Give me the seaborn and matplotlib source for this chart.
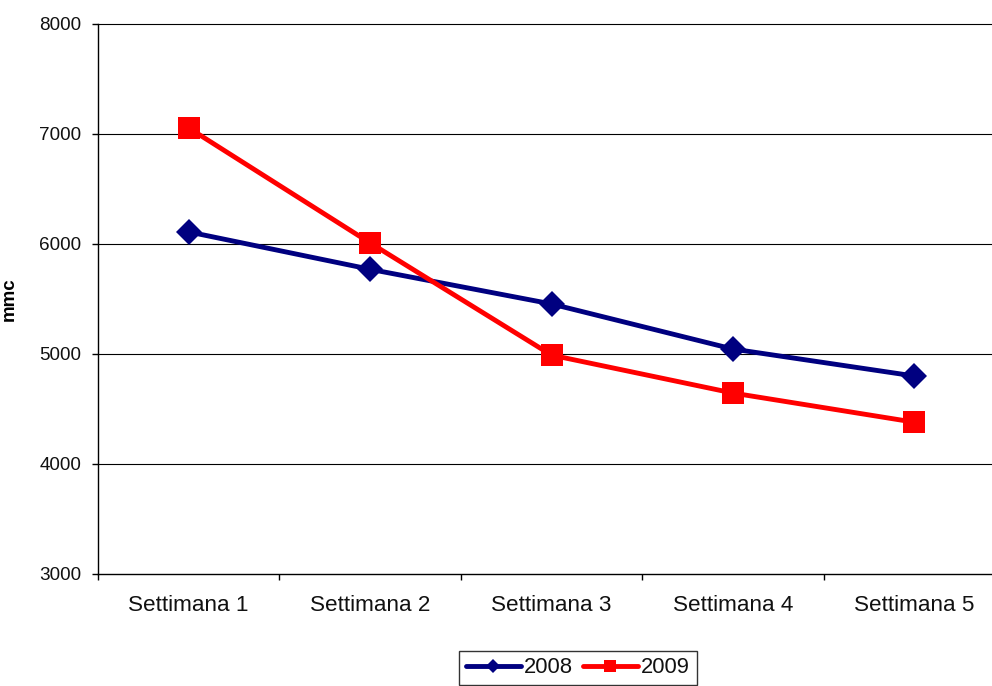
import matplotlib
matplotlib.use("Agg")
import matplotlib.pyplot as plt
import seaborn as sns
import pandas as pd
import numpy as np

categories = ["Settimana 1", "Settimana 2", "Settimana 3", "Settimana 4", "Settimana 5"]
values_2008 = [6110, 5770, 5455, 5045, 4800]
values_2009 = [7055, 6010, 4990, 4645, 4380]
yticks = [3000, 4000, 5000, 6000, 7000, 8000]

sns.set_theme(style="white")
plt.rcParams["font.family"] = ["Liberation Sans", "DejaVu Sans"]

df = pd.DataFrame({
    "Settimana": categories * 2,
    "mmc": values_2008 + values_2009,
    "Anno": ["2008"] * 5 + ["2009"] * 5,
})

fig = plt.figure(figsize=(9.92, 6.86), dpi=100)
ax = fig.add_axes([98 / 992, 112 / 686, (1005 - 98) / 992, (574 - 24) / 686])

sns.lineplot(data=df[df.Anno == "2008"], x="Settimana", y="mmc", ax=ax,
             color="#000080", linewidth=3.5, marker="D", markersize=13.5,
             markeredgewidth=0, label="2008", sort=False)
sns.lineplot(data=df[df.Anno == "2009"], x="Settimana", y="mmc", ax=ax,
             color="#FF0000", linewidth=3.5, marker="s", markersize=15.5,
             markeredgewidth=0, label="2009", sort=False)

ax.set_xlim(-0.5, 4.5)
ax.set_ylim(3000, 8000)
ax.set_yticks(yticks)
ax.set_yticklabels([str(v) for v in yticks], fontsize=13.6, color="#111111")
ax.set_xticks(range(len(categories)))
ax.set_xticklabels(categories, fontsize=16.2, color="#111111")
ax.set_xticks(np.arange(-0.5, 5.0, 1.0), minor=True)
ax.tick_params(axis="x", which="major", length=0, pad=15)
ax.tick_params(axis="x", which="minor", length=4, width=1, color="black", direction="out", bottom=True)
ax.tick_params(axis="y", which="major", length=4, width=1, color="black", direction="out", left=True, pad=8)

ax.grid(False)
for v in yticks[1:]:
    ax.axhline(v, color="#000000", linewidth=0.8, zorder=0, clip_on=False)

for s in ["top", "right"]:
    ax.spines[s].set_visible(False)
for s in ["left", "bottom"]:
    ax.spines[s].set_color("black")
    ax.spines[s].set_linewidth(1.0)

ax.set_xlabel("")
ax.set_ylabel("mmc", fontsize=13.5, fontweight="bold", color="black")
ax.yaxis.set_label_coords((18 - 98) / (1005 - 98), 0.5)

if ax.legend_:
    ax.legend_.remove()
handles, labels = ax.get_legend_handles_labels()
leg = fig.legend(handles, labels, loc="upper center", bbox_to_anchor=(578 / 992, (686 - 650.7) / 686),
                 ncol=2, fontsize=15.8, frameon=True, fancybox=False, edgecolor="black",
                 markerscale=0.55, handlelength=2.5, handletextpad=0.15, columnspacing=0.45,
                 borderpad=0.3, borderaxespad=0)
leg.get_frame().set_linewidth(1.0)
for t in leg.get_texts():
    t.set_color("#111111")

fig.savefig("out.png", dpi=100)
